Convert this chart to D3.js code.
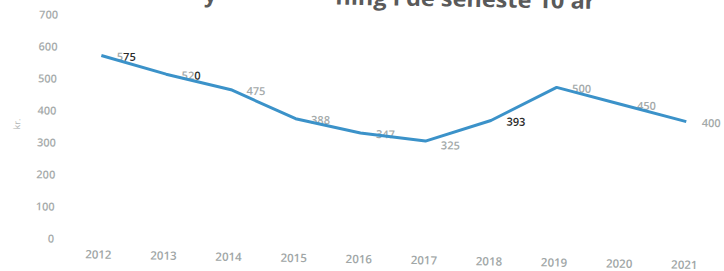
<!DOCTYPE html>
<html>
<head>
<meta charset="utf-8">
<script src="https://cdn.jsdelivr.net/npm/d3@7"></script>
<style>
    body { margin: 0; background: #fff; }
    svg { display: block; font-family: "Open Sans", "DejaVu Sans", sans-serif; }
</style>
</head>
<body>
<svg id="chart"></svg>
<script>
// Data
const years = ["2012", "2013", "2014", "2015", "2016", "2017", "2018", "2019", "2020", "2021"];
const values = [575, 520, 475, 388, 347, 325, 393, 500, 450, 400];
const valueLabels = ["575", "520", "475", "388", "347", "325", "393", "500", "450", "400"];
const yTicks = [0, 100, 200, 300, 400, 500, 600, 700];
const titleParts = ["y", "ning i de seneste 10 år"];

const width = 724;
const height = 271;

const svg = d3.select("#chart")
    .attr("width", width)
    .attr("height", height);

// the source scan is tilted about one degree
const g = svg.append("g")
    .attr("transform", "rotate(1, 362, 135)");

// Scales
const x = d3.scalePoint()
    .domain(years)
    .range([100, 686]);

const y = d3.scaleLinear()
    .domain([0, 700])
    .range([244, 20]);

// Title (mostly cut off at the top edge)
g.append("text")
    .attr("x", 208)
    .attr("y", 5)
    .attr("text-anchor", "middle")
    .style("font-size", "22px")
    .style("font-weight", "bold")
    .style("fill", "#5a5a5a")
    .text(titleParts[0]);

g.append("text")
    .attr("x", 333)
    .attr("y", 5)
    .attr("textLength", 260)
    .attr("lengthAdjust", "spacingAndGlyphs")
    .style("font-size", "22px")
    .style("font-weight", "bold")
    .style("fill", "#5a5a5a")
    .text(titleParts[1]);

// Y axis
const yAxis = g.append("g")
    .attr("class", "y-axis")
    .attr("transform", "translate(56,0)")
    .call(d3.axisLeft(y).tickValues(yTicks).tickSize(0).tickPadding(0));
yAxis.select(".domain").remove();
yAxis.selectAll("text")
    .style("font-size", "11px")
    .style("font-family", "\"Open Sans\", sans-serif")
    .style("font-weight", "600")
    .style("fill", "#a6abab");

// kr. label
g.append("text")
    .attr("transform", "translate(20,130) rotate(-90)")
    .attr("text-anchor", "middle")
    .style("font-size", "9px")
    .style("fill", "#b5b9b9")
    .text("kr.");

// X axis
const xAxis = g.append("g")
    .attr("class", "x-axis")
    .attr("transform", "translate(0,255)")
    .call(d3.axisBottom(x).tickSize(0).tickPadding(0));
xAxis.select(".domain").remove();
xAxis.selectAll("text")
    .attr("dy", "0.71em")
    .style("font-size", "11.5px")
    .style("font-family", "\"Open Sans\", sans-serif")
    .style("font-weight", "600")
    .style("fill", "#a0a6a6");

// Value labels (some digits came out dark in the scan)
const darkDigits = {0: [1, 2], 1: [2], 6: [0, 1, 2]};
const labels = g.append("g").attr("class", "value-labels");
valueLabels.forEach((lbl, i) => {
    const t = labels.append("text")
        .attr("x", x(years[i]) + 25)
        .attr("y", y(values[i]) + (i === 5 ? 4 : 1))
        .attr("dy", "0.35em")
        .attr("text-anchor", "middle")
        .style("font-size", "11px")
        .style("font-weight", "600");
    lbl.split("").forEach((ch, k) => {
        const dark = darkDigits[i] && darkDigits[i].includes(k);
        t.append("tspan")
            .style("fill", dark ? "#2b2b2b" : "#a3a9a9")
            .text(ch);
    });
});

// Line
const line = d3.line()
    .x((d, i) => x(years[i]))
    .y(d => y(d));

g.append("path")
    .datum(values)
    .attr("class", "line")
    .attr("d", line)
    .style("fill", "none")
    .style("stroke", "#3b92c9")
    .style("stroke-width", 3)
    .style("stroke-linejoin", "round");
</script>
</body>
</html>
